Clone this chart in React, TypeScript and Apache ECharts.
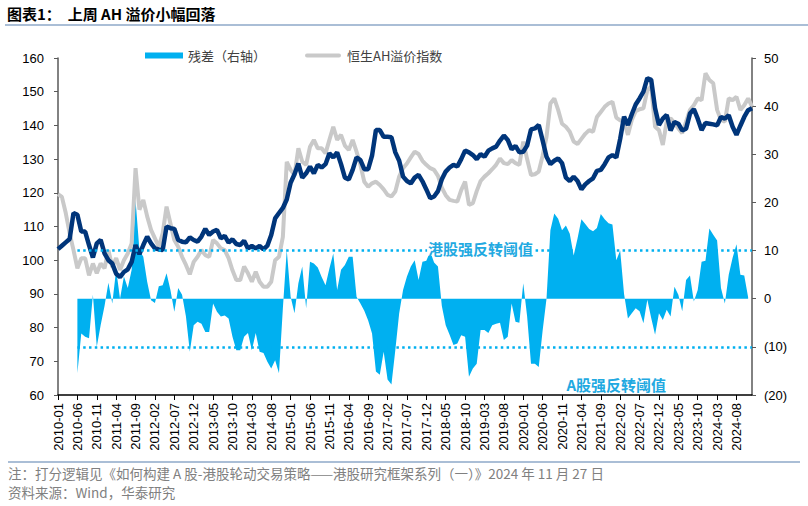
import React, { useEffect, useRef } from "react";
import * as echarts from "echarts";

// Monthly categories 2010-01 .. 2024-12
const months: string[] = [];
for (let y = 2010; y <= 2024; y++) {
  for (let m = 1; m <= 12; m++) months.push(`${y}-${String(m).padStart(2, "0")}`);
}

const titleText = "图表1：  上周 AH 溢价小幅回落";
const noteText = "注：打分逻辑见《如何构建 A 股-港股轮动交易策略——港股研究框架系列（一）》2024 年 11 月 27 日";
const sourceText = "资料来源：Wind，华泰研究";
const residualName = "残差（右轴）";
const ahName = "恒生AH溢价指数";
const fitName = "拟合值";
const hkLabel = "港股强反转阈值";
const aLabel = "A股强反转阈值";

const leftTicks = { min: 60, max: 160, interval: 10 };
const rightTicks = { min: -20, max: 50, interval: 10 };
const thresholds = [10, -10];

// Navy line (left axis)
const fitValues: number[] = [
  103.3, 104.3, 105.3, 106.3, 114, 113.5, 108.5, 108.5, 104.5, 100.8,
  105, 106, 102, 100, 99, 96, 95, 96.5, 97.3, 99.5,
  104.5, 101.8, 104.5, 107, 105, 103.5, 103.2, 103, 110, 109.5,
  109.3, 106, 105.5, 105.3, 106.8, 106, 105.5, 107, 109.3, 107.5,
  108.5, 109, 106.5, 107.2, 105.2, 106.2, 104.8, 104.5, 105.8, 103.5,
  104.2, 103.5, 104.2, 103.2, 104.3, 107.5, 112.4, 114, 115.5, 118,
  123, 125.5, 128.7, 124.5, 125.8, 127.8, 125.8, 128.3, 127.5, 128.5,
  131.7, 130.5, 132, 128.5, 124.5, 124, 126.8, 130.5, 129.7, 127,
  127, 131, 138.6, 138.6, 136.6, 136.6, 136.5, 132, 129.5, 124.8,
  123.5, 122.8, 124.5, 125.3, 123.4, 121, 118.4, 118.9, 120.5, 124,
  126.3, 127.5, 128.3, 127.8, 130, 132.5, 132, 131.2, 130, 131.5,
  130.7, 132.5, 133.2, 133.7, 135.5, 137, 135.7, 132.9, 133.9, 132,
  132.2, 134, 138.8, 139.1, 140.1, 135.5, 130.7, 128.5, 129.5, 130.2,
  128.8, 124.5, 123.5, 124.8, 123.5, 121, 122.5, 123.5, 124.3, 126.5,
  126.8, 128.5, 130.5, 131.2, 130.5, 136, 142.6, 140.1, 143.3, 146.2,
  148, 150, 154, 153.5, 145.1, 140.1, 142, 143.1, 138.5, 141,
  140.5, 138.5, 139, 143.5, 144.8, 142, 138.6, 140.7, 140.5, 140.3,
  140, 142.5, 142, 143, 139.6, 137.2, 139.9, 142.5, 144.5, 145.1,
];

// Grey line (left axis)
const ahValues: number[] = [
  119.6, 118.8, 114, 108, 103, 97.6, 100.6, 100.6, 95.5, 99,
  96.1, 99, 97.6, 103, 98, 100.6, 97.1, 100, 102, 105,
  127.3, 115, 117.9, 113, 109, 106.5, 104, 108, 115.9, 110.9,
  106, 104, 101, 98.6, 95.8, 99.5, 101, 103, 101.5, 101,
  106, 105, 103.5, 103, 100.6, 97, 94.1, 94.1, 98.1, 96.1,
  93.6, 96.6, 93.6, 92.1, 92.1, 93.6, 100, 101, 106.9, 129.2,
  126.8, 125.3, 133.2, 129.2, 128.3, 133.7, 135.7, 133.2, 133.2, 131.7,
  135.7, 139.6, 135.7, 137.2, 134, 132.7, 135.7, 132.2, 128.3, 123.3,
  121.8, 122.8, 123.3, 122.3, 121, 119.4, 118.9, 120.4, 124.8, 127.3,
  128.7, 130.5, 132.2, 131.5, 129.5, 128.3, 127.3, 126.8, 125, 121.5,
  119.3, 117.9, 117.6, 117.4, 120.8, 123.3, 116.4, 116.9, 120.5, 123.5,
  124.8, 125.8, 127, 128.3, 130.2, 128.8, 128.5, 129.7, 128.8, 128.3,
  135.2, 130, 125.3, 125.5, 126.3, 131, 136.6, 146.5, 148, 144.6,
  140.5, 139.6, 138.1, 135.2, 134.5, 136, 137.5, 138.6, 138.1, 142.5,
  144, 145.5, 146.5, 147, 142.3, 141.5, 141.1, 137.2, 141.6, 144.2,
  144.8, 145.1, 150.5, 151.5, 139.6, 138.6, 134.2, 141.1, 142.1, 140.8,
  139.1, 137.7, 141.1, 144.6, 146, 148, 147.5, 155.5, 153.5, 152.5,
  144.6, 141.6, 141.1, 148, 147.5, 148.5, 144.6, 146, 148, 145.6,
];

// Residual area (right axis); starts 2010-06
const residualValues: (number | null)[] = [
  null, null, null, null, null, -15.5, -7.2, -7.9, -8.2, 0.8,
  -10, -5.5, -1.5, 3.3, -1, 6, 0, 4.6, 2.2, 6,
  20.5, 10.1, 8.7, 3.5, -0.3, -0.9, 2.6, 2.8, 5.3, 1.8,
  -2.7, 2.2, 0.8, -3.7, -11, -5.5, -4.8, -5.2, -6.9, -6.9,
  -1, -2.7, -3.7, -3.5, -4.1, -7.9, -10.7, -10.7, -7.9, -7.1,
  -10.7, -7.1, -11, -11.3, -13.1, -14.5, -12.8, -15.5, -2, 10.1,
  0.4, -3, 3.2, 6.7, -2, 7.7, 7.3, 6.5, 4.5, 2.8,
  6.3, 9.4, 1.8, 6, 7, 8.7, 8.7, 0.4, -1, -2.5,
  -4.5, -7.2, -15.1, -15.8, -11, -16.8, -17.8, -10.7, -3, 1.8,
  4.6, 6.7, 8, 3.9, 7.7, 7.9, 9.8, 7.5, 6.7, -1.5,
  -5.5, -7.5, -9.6, -9.3, -7.6, -7.9, -16.2, -14.5, -13.5, -6.5,
  -6.5, -7.1, -5.5, -5.2, -5, -8.6, -7.9, -1, -4.8, -5,
  3.2, -3.7, -13.5, -13.5, -14.2, -6.6, 0, 14.2, 17.7, 16.6,
  14.2, 15.2, 13.5, 9, 12.5, 16.5, 15.5, 14.5, 14, 14.7,
  17.6, 16.5, 15.7, 15.4, 8, 10, 1, -4.1, -3, -2,
  -2.6, -5.1, -0.2, -4, -7.5, -3, -4.4, -2.3, -3.7, 2.5,
  0.8, -2.6, 3.9, 4.8, -0.6, 1.8, 7.7, 7.9, 14.6, 13.3,
  12.1, 2.2, -1, 5, 8.5, 11.3, 5, 4.8, 0.3, null,
];

const NAVY = "#00357A";
const GREY = "#C9C9C9";
const CYAN = "#00B0F0";
const LABEL_CYAN = "#22A9E1";
const FONT = "'Liberation Sans', Arial, 'Noto Sans CJK SC', sans-serif";
const CJK = "'Noto Sans CJK SC', 'Liberation Sans', sans-serif";
// thick rounded line icon (tiny corner points keep the box at 38x6)
const GREY_ICON =
  "path://M0,0 L0.01,0 L0,0.01 Z M38,6 L37.99,6 L38,5.99 Z M3,1 L35,1 A2,2 0 0 1 35,5 L3,5 A2,2 0 0 1 3,1 Z";

export default function App() {
  const ref = useRef<HTMLDivElement>(null);

  useEffect(() => {
    if (!ref.current) return;
    const chart = echarts.init(ref.current, undefined, { renderer: "svg" });
    const firstResidualCat = months[residualValues.findIndex((v) => v !== null)];
    const lastCat = months[months.length - 1];

    chart.setOption({
      animation: false,
      backgroundColor: "#ffffff",
      textStyle: { fontFamily: FONT },
      graphic: [
        {
          type: "text",
          left: 7,
          top: 6,
          style: { text: titleText, font: `bold 15px ${CJK}`, fill: "#000" },
        },
        {
          type: "line",
          shape: { x1: 5, y1: 25, x2: 808, y2: 25 },
          style: { stroke: "#8EA8C9", lineWidth: 1.5 },
        },
        {
          type: "line",
          shape: { x1: 8, y1: 462, x2: 800, y2: 462 },
          style: { stroke: "#8EA8C9", lineWidth: 1.5 },
        },
        {
          type: "text",
          left: 8,
          top: 466,
          style: { text: noteText, font: `13.5px ${CJK}`, fill: "#808080" },
        },
        {
          type: "text",
          left: 8,
          top: 485,
          style: { text: sourceText, font: `13.5px ${CJK}`, fill: "#808080" },
        },
      ],
      legend: {
        left: 140,
        top: 44,
        itemWidth: 38,
        itemHeight: 6,
        itemGap: 38,
        textStyle: { fontFamily: CJK, fontSize: 13, color: "#404040" },
        data: [
          { name: residualName, icon: "rect" },
          { name: ahName, icon: GREY_ICON },
        ],
      },
      grid: { left: 58, right: 56, top: 58, bottom: 111, containLabel: false },
      xAxis: {
        type: "category",
        data: months,
        boundaryGap: false,
        axisLine: { onZero: false, lineStyle: { color: "#000", width: 1.5 } },
        axisTick: { interval: 4, length: 5, lineStyle: { color: "#000" } },
        axisLabel: {
          interval: 4,
          rotate: 90,
          fontSize: 13,
          color: "#000",
          margin: 8,
          fontFamily: FONT,
        },
        splitLine: { show: false },
      },
      yAxis: [
        {
          type: "value",
          position: "left",
          ...leftTicks,
          axisLine: { show: true, lineStyle: { color: "#595959", width: 1.5 } },
          axisTick: { show: true, inside: false, length: 4, lineStyle: { color: "#595959" } },
          axisLabel: { fontSize: 13, color: "#000", margin: 14, fontFamily: FONT },
          splitLine: { show: false },
        },
        {
          type: "value",
          position: "right",
          ...rightTicks,
          axisLine: { show: true, lineStyle: { color: "#595959", width: 1.5 } },
          axisTick: { show: true, inside: false, length: 4, lineStyle: { color: "#595959" } },
          axisLabel: {
            fontSize: 13,
            color: "#000",
            margin: 12,
            fontFamily: FONT,
            formatter: (v: number) => (v < 0 ? `(${-v})` : `${v}`),
          },
          splitLine: { show: false },
        },
      ],
      series: [
        {
          name: residualName,
          type: "line",
          yAxisIndex: 1,
          data: residualValues,
          symbol: "none",
          showSymbol: false,
          connectNulls: false,
          itemStyle: { color: CYAN },
          lineStyle: { width: 0, color: CYAN },
          areaStyle: { color: CYAN, opacity: 1 },
          z: 1,
          markLine: {
            silent: true,
            symbol: ["none", "none"],
            label: { show: false },
            lineStyle: { color: CYAN, type: [2.5, 3.3], width: 2.5 },
            data: thresholds.map((t) => [
              { coord: [firstResidualCat, t] },
              { coord: [lastCat, t] },
            ]),
          },
          markPoint: {
            silent: true,
            symbol: "rect",
            symbolSize: 0.01,
            data: [
              {
                coord: ["2019-02", 10.5],
                value: 0,
                label: {
                  show: true,
                  position: "inside",
                  formatter: hkLabel,
                  color: LABEL_CYAN,
                  fontFamily: CJK,
                  fontWeight: "bold",
                  fontSize: 15,
                  backgroundColor: "#ffffff",
                  padding: [0, 1],
                },
              },
              {
                coord: ["2022-01", -17.9],
                value: 0,
                label: {
                  show: true,
                  position: "inside",
                  formatter: aLabel,
                  color: LABEL_CYAN,
                  fontFamily: CJK,
                  fontWeight: "bold",
                  fontSize: 15,
                },
              },
            ],
          },
        },
        {
          name: ahName,
          type: "line",
          yAxisIndex: 0,
          data: ahValues,
          symbol: "none",
          showSymbol: false,
          itemStyle: { color: GREY },
          lineStyle: { color: GREY, width: 4 },
          z: 2,
        },
        {
          name: fitName,
          type: "line",
          yAxisIndex: 0,
          data: fitValues,
          symbol: "none",
          showSymbol: false,
          itemStyle: { color: NAVY },
          lineStyle: { color: NAVY, width: 4.5 },
          z: 3,
        },
      ],
    });

    return () => chart.dispose();
  }, []);

  return (
    <div
      ref={ref}
      style={{ position: "fixed", left: 0, top: 0, width: 808, height: 506, background: "#fff" }}
    />
  );
}
